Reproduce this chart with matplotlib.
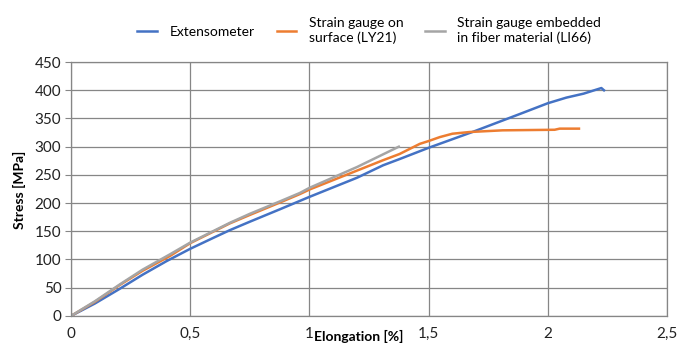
import matplotlib
matplotlib.use("Agg")
from matplotlib import pyplot as plt
from matplotlib.ticker import FuncFormatter

# Extensometer
ext_x = [0, 0.1, 0.16, 0.2, 0.3, 0.4, 0.5, 0.6, 0.666, 0.75, 0.876, 1.0, 1.2, 1.309, 1.378,
         1.5, 1.69, 1.883, 2.0, 2.078, 2.15, 2.225, 2.236]
ext_y = [0, 22, 37, 47, 73, 97, 119, 139, 152, 167, 189, 211, 245, 267, 278,
         298, 327, 358, 377, 387, 394, 404, 400]

# Strain gauge on surface (LY21)
ly21_x = [0, 0.1, 0.205, 0.3, 0.414, 0.5, 0.666, 0.75, 0.876, 0.96, 1.0, 1.309, 1.378,
          1.463, 1.5, 1.547, 1.6, 1.672, 1.81, 2.029, 2.05, 2.131]
ly21_y = [0, 25, 55, 80, 106, 129, 164, 179, 201, 216, 224, 276, 287,
          305, 310, 317, 323, 326, 329, 330, 332, 332]

# Strain gauge embedded in fiber material (LI66)
li66_x = [0, 0.1, 0.205, 0.3, 0.414, 0.5, 0.666, 0.75, 0.876, 0.96, 1.0, 1.2, 1.375]
li66_y = [0, 26, 56, 82, 109, 130, 165, 181, 203, 218, 227, 264, 300]

x_ticks = [0, 0.5, 1, 1.5, 2, 2.5]
y_ticks = list(range(0, 451, 50))

plt.rcParams['font.family'] = ['Lato', 'DejaVu Sans']

fig = plt.figure(figsize=(6.84, 3.61), dpi=100)
ax = fig.add_axes([0.104, 0.125, 0.871, 0.703])

ax.plot(ext_x, ext_y, color='#4472C4', lw=1.8, label='Extensometer')
ax.plot(ly21_x, ly21_y, color='#ED7D31', lw=1.8, label='Strain gauge on\nsurface (LY21)')
ax.plot(li66_x, li66_y, color='#A5A5A5', lw=1.8, label='Strain gauge embedded\nin fiber material (LI66)')

ax.set_xlim(0, 2.5)
ax.set_ylim(0, 450)
ax.set_xticks(x_ticks)
ax.set_yticks(y_ticks)
ax.xaxis.set_major_formatter(FuncFormatter(lambda v, p: ('%g' % v).replace('.', ',')))
ax.grid(True, color='#868686', lw=0.9)
ax.set_axisbelow(True)
for s in ax.spines.values():
    s.set_color('#868686')
    s.set_linewidth(0.9)
ax.tick_params(axis='x', length=0, pad=8, labelsize=11, colors='#222222')
ax.tick_params(axis='y', length=4, color='#868686', pad=3, labelsize=11, labelcolor='#222222')

fig.text(0.459, 0.069, 'Elongation [%]', fontsize=10, fontweight='bold', ha='left', va='center')
fig.text(0.029, 0.474, 'Stress [MPa]', fontsize=10, fontweight='bold', rotation=90,
         ha='center', va='center')

fig.legend(loc='center', bbox_to_anchor=(0.54, 0.915), ncol=3, frameon=False,
           fontsize=10, handlelength=1.4, columnspacing=1.6, handletextpad=0.9)

fig.savefig('out.png', dpi=100)
